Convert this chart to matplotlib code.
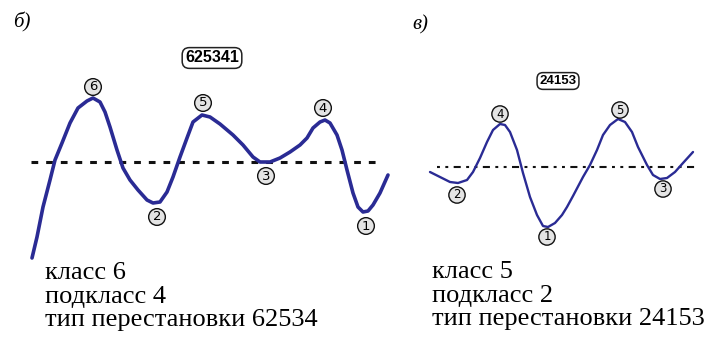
import numpy as np
import matplotlib.pyplot as plt

# curve б): sampled points (x, y in pixels, y downward)
left_x = [32, 37, 43, 50, 55, 62, 70, 78, 87, 93, 100, 105, 110, 117, 123, 130, 138, 147, 153, 160,
          167, 173, 180, 187, 193, 202, 210, 220, 233, 243, 253, 260, 270, 280, 290, 300, 307, 313,
          320, 325, 330, 337, 342, 347, 353, 358, 363, 368, 373, 380, 388]
left_y = [258, 237, 207, 180, 160, 143, 123, 108, 101, 98, 102, 112, 127, 150, 168, 180, 190, 200, 203, 202,
          192, 177, 157, 138, 122, 115, 117, 124, 135, 145, 157, 162, 162, 158, 152, 145, 138, 128,
          122, 120, 123, 135, 150, 170, 193, 207, 212, 211, 205, 193, 175]
left_level = 162
left_marks = ['6', '5', '4', '3', '2', '1']
left_mark_xy = [(93, 87), (203, 103), (323, 108), (266, 176), (157, 217), (366, 226)]
left_code = '625341'
left_info = ['класс 6', 'подкласс 4', 'тип перестановки 62534']

# curve в)
right_x = [430, 440, 450, 458, 467, 473, 480, 487, 493, 500, 505, 510, 517, 523, 530, 537, 543, 548,
           555, 562, 567, 573, 583, 590, 597, 603, 610, 618, 625, 632, 638, 647, 653, 660, 667, 675,
           683, 693]
right_y = [172, 177, 182, 183, 180, 172, 158, 142, 130, 124, 125, 132, 150, 173, 197, 215, 226, 227,
           223, 215, 207, 196, 177, 165, 150, 135, 125, 119, 122, 132, 147, 165, 175, 179, 178, 172,
           163, 152]
right_level = 167
right_marks = ['4', '5', '2', '1', '3']
right_mark_xy = [(500, 114), (620, 110), (457, 195), (547, 237), (663, 189)]
right_code = '24153'
right_info = ['класс 5', 'подкласс 2', 'тип перестановки 24153']

fig = plt.figure(figsize=(7.18, 3.4), dpi=100)
ax = fig.add_axes([0, 0, 1, 1])
ax.set_xlim(0, 718)
ax.set_ylim(340, 0)
ax.axis('off')

serif = ['Liberation Serif', 'DejaVu Serif']


def draw_panel(xs, ys, level, x0, x1, marks, mark_xy, code, code_xy, csize, info, info_x, info_y,
               lw, dlw, dash, msize, tag, tag_xy):
    ax.plot([x0, x1], [level, level], color='#111111', lw=dlw, dashes=dash)
    ax.plot(xs, ys, color='#2a2b94', lw=lw, solid_capstyle='round', solid_joinstyle='round')
    for m, (mx, my) in zip(marks, mark_xy):
        ax.text(mx, my, m, ha='center', va='center', fontsize=msize, family='DejaVu Sans',
                bbox=dict(boxstyle='circle,pad=0.14', fc='#e4e4e4', ec='#111111', lw=1.0))
    ax.text(code_xy[0], code_xy[1], code, ha='center', va='center', fontsize=csize,
            fontweight='bold', family=['Liberation Sans', 'DejaVu Sans'],
            bbox=dict(boxstyle='round,pad=0.18,rounding_size=0.45', fc='white', ec='#222222', lw=1.1))
    for line, y in zip(info, info_y):
        ax.text(info_x, y, line, ha='left', va='baseline', fontsize=19, family=serif)
    ax.text(tag_xy[0], tag_xy[1], tag, ha='left', va='center', fontsize=15,
            family=serif, style='italic')


draw_panel(left_x, left_y, left_level, 31, 383, left_marks, left_mark_xy, left_code, (212, 58), 11.5,
           left_info, 45, [279, 303, 326], 2.6, 2.2, (2.2, 2.6), 9.5, 'б)', (13, 22))
draw_panel(right_x, right_y, right_level, 437, 695, right_marks, right_mark_xy, right_code, (558, 81), 9.5,
           right_info, 432, [278, 302, 325], 1.7, 1.5, (1.4, 2.6, 1.4, 2.6, 3.4, 2.6), 8.5, 'в)', (412, 25))

fig.savefig('out.png', dpi=100)
